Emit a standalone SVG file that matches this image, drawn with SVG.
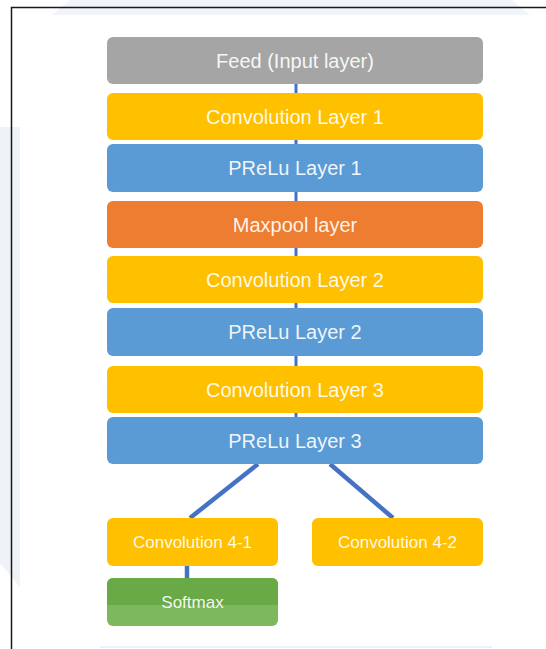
<svg xmlns="http://www.w3.org/2000/svg" width="546" height="649" viewBox="0 0 546 649">
<style>
.t{font-family:"Liberation Sans",Arial,sans-serif;font-size:20px;fill:#ffffff;fill-opacity:0.92;text-anchor:middle}
.s{font-size:17px}
.c{stroke:#4472C4;stroke-width:3;fill:none}
.d{stroke:#4472C4;stroke-width:4.5;fill:none}
</style>
<rect width="546" height="649" fill="#ffffff"/>
<g id="background">
<polygon points="70,0 512,0 530,15 52,15" fill="#f1f4f8"/>
<polygon points="0,127 20,127 20,587 0,563" fill="#eff3f7"/>
<line x1="100" y1="647" x2="492" y2="647" stroke="#eef2f6" stroke-width="2"/>
<path d="M11.5,649 V7.5 H546" stroke="#1a1a1a" stroke-width="1.5" fill="none"/>
</g>
<g id="connectors">
<line class="c" x1="296" y1="84" x2="296" y2="93"/>
<line class="c" x1="296" y1="140" x2="296" y2="144"/>
<line class="c" x1="296" y1="192" x2="296" y2="201"/>
<line class="c" x1="296" y1="248" x2="296" y2="256"/>
<line class="c" x1="296" y1="303" x2="296" y2="308"/>
<line class="c" x1="296" y1="356" x2="296" y2="366"/>
<line class="c" x1="296" y1="413" x2="296" y2="417"/>
<line class="d" x1="258" y1="464" x2="190" y2="518"/>
<line class="d" x1="330" y1="464" x2="393" y2="518"/>
<line class="d" x1="187" y1="566" x2="187" y2="578"/>
</g>
<g id="feed">
<rect x="107" y="37" width="376" height="47" rx="6" fill="#A5A5A5"/>
<text class="t" x="295" y="68">Feed (Input layer)</text>
</g>
<g id="conv1">
<rect x="107" y="93" width="376" height="47" rx="6" fill="#FFC000"/>
<text class="t" x="295" y="124">Convolution Layer 1</text>
</g>
<g id="prelu1">
<rect x="107" y="144" width="376" height="48" rx="6" fill="#5B9BD5"/>
<text class="t" x="295" y="175">PReLu Layer 1</text>
</g>
<g id="maxpool">
<rect x="107" y="201" width="376" height="47" rx="6" fill="#ED7D31"/>
<text class="t" x="295" y="232">Maxpool layer</text>
</g>
<g id="conv2">
<rect x="107" y="256" width="376" height="47" rx="6" fill="#FFC000"/>
<text class="t" x="295" y="287">Convolution Layer 2</text>
</g>
<g id="prelu2">
<rect x="107" y="308" width="376" height="48" rx="6" fill="#5B9BD5"/>
<text class="t" x="295" y="339">PReLu Layer 2</text>
</g>
<g id="conv3">
<rect x="107" y="366" width="376" height="47" rx="6" fill="#FFC000"/>
<text class="t" x="295" y="397">Convolution Layer 3</text>
</g>
<g id="prelu3">
<rect x="107" y="417" width="376" height="47" rx="6" fill="#5B9BD5"/>
<text class="t" x="295" y="448">PReLu Layer 3</text>
</g>
<g id="conv4-1">
<rect x="107" y="518" width="171" height="48" rx="6" fill="#FFC000"/>
<text class="t s" x="192.5" y="548">Convolution 4-1</text>
</g>
<g id="conv4-2">
<rect x="312" y="518" width="171" height="48" rx="6" fill="#FFC000"/>
<text class="t s" x="397.5" y="548">Convolution 4-2</text>
</g>
<g id="softmax">
<rect x="107" y="578" width="171" height="48" rx="6" fill="#7DB75E"/>
<path d="M113,578 H272 A6,6 0 0 1 278,584 V605 H107 V584 A6,6 0 0 1 113,578 Z" fill="#6AAA46"/>
<text class="t s" x="192.5" y="608" fill-opacity="0.85">Softmax</text>
</g>
</svg>
